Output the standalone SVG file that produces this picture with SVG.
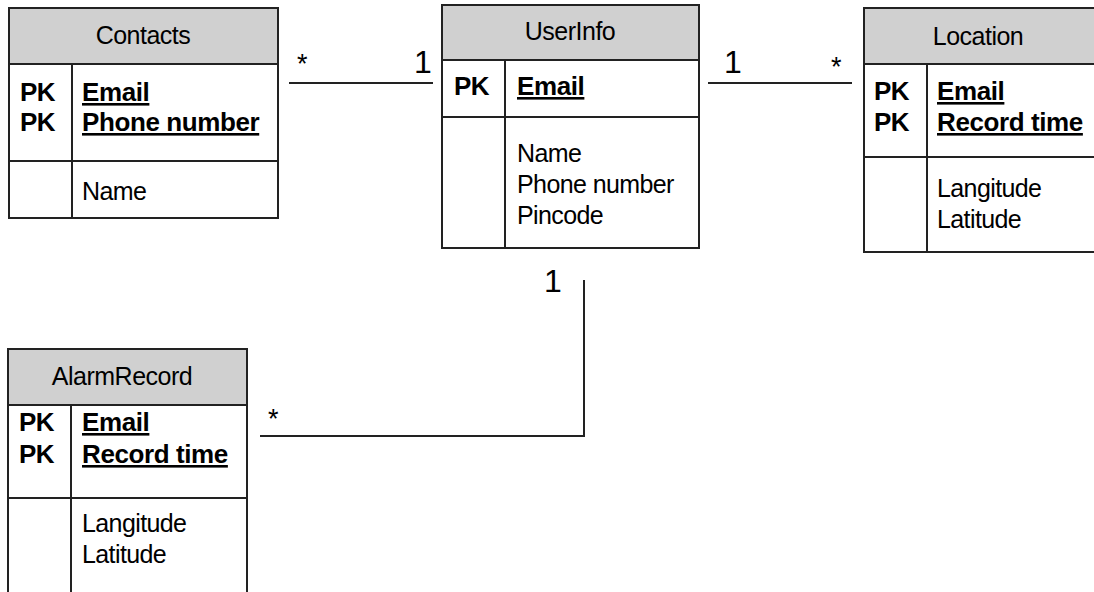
<svg xmlns="http://www.w3.org/2000/svg" width="1094" height="592" viewBox="0 0 1094 592">
<style>
.box{fill:#ffffff;stroke:#222;stroke-width:2}
.hdr{fill:#d0d0d0;stroke:#222;stroke-width:2}
.ln{stroke:#222;stroke-width:2;fill:none}
text{font-family:"Liberation Sans",Arial,sans-serif;fill:#000}
.t{font-size:25px;letter-spacing:-0.6px}
.title{font-size:25px;letter-spacing:-0.5px;text-anchor:middle}
.b{font-size:26px;font-weight:bold;letter-spacing:-0.5px}
.u{font-size:26px;font-weight:bold;letter-spacing:-0.4px;text-decoration:underline}
.one{font-size:32px}
.star{font-size:27px}
</style>
<rect width="1094" height="592" fill="#ffffff"/>
<g id="connectors">
<line class="ln" x1="289" y1="83" x2="433" y2="83"/>
<line class="ln" x1="708" y1="83" x2="852" y2="83"/>
<polyline class="ln" points="584,280 584,436 260,436"/>
<text class="star" x="297" y="73">*</text>
<text class="one" x="414" y="73">1</text>
<text class="one" x="724" y="73">1</text>
<text class="star" x="831" y="76">*</text>
<text class="one" x="544" y="292">1</text>
<text class="star" x="268" y="428">*</text>
</g>
<g id="contacts">
<rect class="box" x="9" y="8" width="269" height="210"/>
<rect class="hdr" x="9" y="8" width="269" height="56"/>
<line class="ln" x1="9" y1="161" x2="278" y2="161"/>
<line class="ln" x1="72" y1="64" x2="72" y2="218"/>
<text class="title" x="143" y="44">Contacts</text>
<text class="b" x="20" y="101">PK</text>
<text class="b" x="20" y="131">PK</text>
<text class="u" x="82" y="101">Email</text>
<text class="u" x="82" y="131">Phone number</text>
<text class="t" x="82" y="200">Name</text>
</g>
<g id="userinfo">
<rect class="box" x="442" y="5" width="257" height="243"/>
<rect class="hdr" x="442" y="5" width="257" height="55"/>
<line class="ln" x1="442" y1="117" x2="699" y2="117"/>
<line class="ln" x1="505" y1="60" x2="505" y2="248"/>
<text class="title" x="570" y="40">UserInfo</text>
<text class="b" x="454" y="95">PK</text>
<text class="u" x="517" y="95">Email</text>
<text class="t" x="517" y="162">Name</text>
<text class="t" x="517" y="193">Phone number</text>
<text class="t" x="517" y="224">Pincode</text>
</g>
<g id="location">
<rect class="box" x="864" y="8" width="240" height="244"/>
<rect class="hdr" x="864" y="8" width="240" height="56"/>
<line class="ln" x1="864" y1="157" x2="1104" y2="157"/>
<line class="ln" x1="927" y1="64" x2="927" y2="252"/>
<text class="title" x="978" y="45">Location</text>
<text class="b" x="874" y="100">PK</text>
<text class="b" x="874" y="131">PK</text>
<text class="u" x="937" y="100">Email</text>
<text class="u" x="937" y="131">Record time</text>
<text class="t" x="937" y="197">Langitude</text>
<text class="t" x="937" y="228">Latitude</text>
</g>
<g id="alarmrecord">
<rect class="box" x="8" y="349" width="239" height="260"/>
<rect class="hdr" x="8" y="349" width="239" height="56"/>
<line class="ln" x1="8" y1="498" x2="247" y2="498"/>
<line class="ln" x1="71" y1="405" x2="71" y2="609"/>
<text class="title" x="122" y="385">AlarmRecord</text>
<text class="b" x="19" y="431">PK</text>
<text class="b" x="19" y="463">PK</text>
<text class="u" x="82" y="431">Email</text>
<text class="u" x="82" y="463">Record time</text>
<text class="t" x="82" y="532">Langitude</text>
<text class="t" x="82" y="563">Latitude</text>
</g>
</svg>
